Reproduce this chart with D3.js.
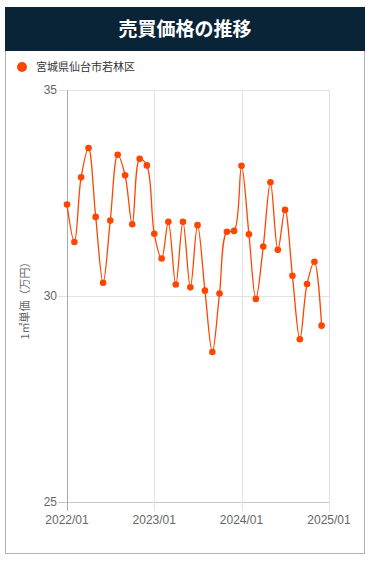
<!DOCTYPE html>
<html><head><meta charset="utf-8">
<script src="https://cdn.jsdelivr.net/npm/d3@7"></script>
<style>
html,body{margin:0;padding:0;background:#fff;}
svg{display:block;font-family:"Liberation Sans","Noto Sans CJK JP",sans-serif;}
</style></head>
<body>
<svg id="c" width="370" height="561"></svg>
<script>
const title = "売買価格の推移";
const seriesName = "宮城県仙台市若林区";
const yTitle = "1㎡単価（万円）";
const months = d3.range(36).map(i => new Date(2022, i, 1));
const values = [32.22,31.31,32.88,33.59,31.92,30.32,31.83,33.43,32.93,31.74,33.33,33.17,
                31.51,30.91,31.80,30.28,31.80,30.21,31.72,30.13,28.64,30.06,31.56,31.58,
                33.16,31.50,29.93,31.20,32.76,31.12,32.09,30.49,28.95,30.29,30.83,29.28];
const yTicks = [25,30,35];
const xTicks = [new Date(2022,0,1),new Date(2023,0,1),new Date(2024,0,1),new Date(2025,0,1)];
const xTickLabels = ["2022/01","2023/01","2024/01","2025/01"];

const svg = d3.select("#c");
// card
svg.append("rect").attr("x",5.5).attr("y",50.5).attr("width",359).attr("height",503)
  .attr("fill","#fff").attr("stroke","#b4b4b4").attr("stroke-width",1);
svg.append("rect").attr("x",5).attr("y",7).attr("width",360).attr("height",44).attr("fill","#0a2437");
svg.append("text").attr("x",185).attr("y",36).attr("text-anchor","middle")
  .attr("fill","#fff").attr("font-size",19).attr("font-weight","bold")
  .attr("font-family","'Noto Sans CJK JP',sans-serif").text(title);

// legend
svg.append("circle").attr("cx",22).attr("cy",67).attr("r",5).attr("fill","#ff4500");
svg.append("text").attr("x",36).attr("y",71).attr("font-size",11).attr("fill","#333")
  .attr("font-family","'Noto Sans CJK JP',sans-serif").text(seriesName);

const x = d3.scaleTime().domain([new Date(2022,0,1), new Date(2025,0,1)]).range([67,329]);
const y = d3.scaleLinear().domain([25,35]).range([502,90]);

const g = svg.append("g");
// grid
g.selectAll(".yg").data(yTicks).join("line")
  .attr("x1",58).attr("x2",329).attr("y1",d=>Math.round(y(d))+0.5).attr("y2",d=>Math.round(y(d))+0.5)
  .attr("stroke",d=>d===25?"#c8c8c8":"#e2e2e2");
g.selectAll(".xg").data(xTicks).join("line")
  .attr("x1",d=>Math.round(x(d))+0.5).attr("x2",d=>Math.round(x(d))+0.5)
  .attr("y1",90).attr("y2",511)
  .attr("stroke",(d,i)=>i===0?"#aaa":"#e2e2e2");
// y labels
g.selectAll(".yl").data(yTicks).join("text")
  .attr("x",57).attr("y",d=>y(d)+4).attr("text-anchor","end")
  .attr("font-size",12).attr("fill","#666").text(d=>d);
g.selectAll(".xl").data(xTicks).join("text")
  .attr("x",d=>x(d)).attr("y",524).attr("text-anchor","middle")
  .attr("font-size",12).attr("fill","#666").text((d,i)=>xTickLabels[i]);
// y title
svg.append("text").attr("transform","translate(29,298) rotate(-90)")
  .attr("text-anchor","middle").attr("font-size",11).attr("fill","#666")
  .attr("font-family","'Noto Sans CJK JP',sans-serif").text(yTitle);

const line = d3.line().x((d,i)=>x(months[i])).y(d=>y(d)).curve(d3.curveCatmullRom.alpha(0.5));
g.append("path").attr("d",line(values)).attr("fill","none").attr("stroke","#ff4500").attr("stroke-width",1.3);
g.selectAll(".pt").data(values).join("circle")
  .attr("cx",(d,i)=>x(months[i])).attr("cy",d=>y(d)).attr("r",3.3).attr("fill","#ff4500");
</script>
</body></html>
